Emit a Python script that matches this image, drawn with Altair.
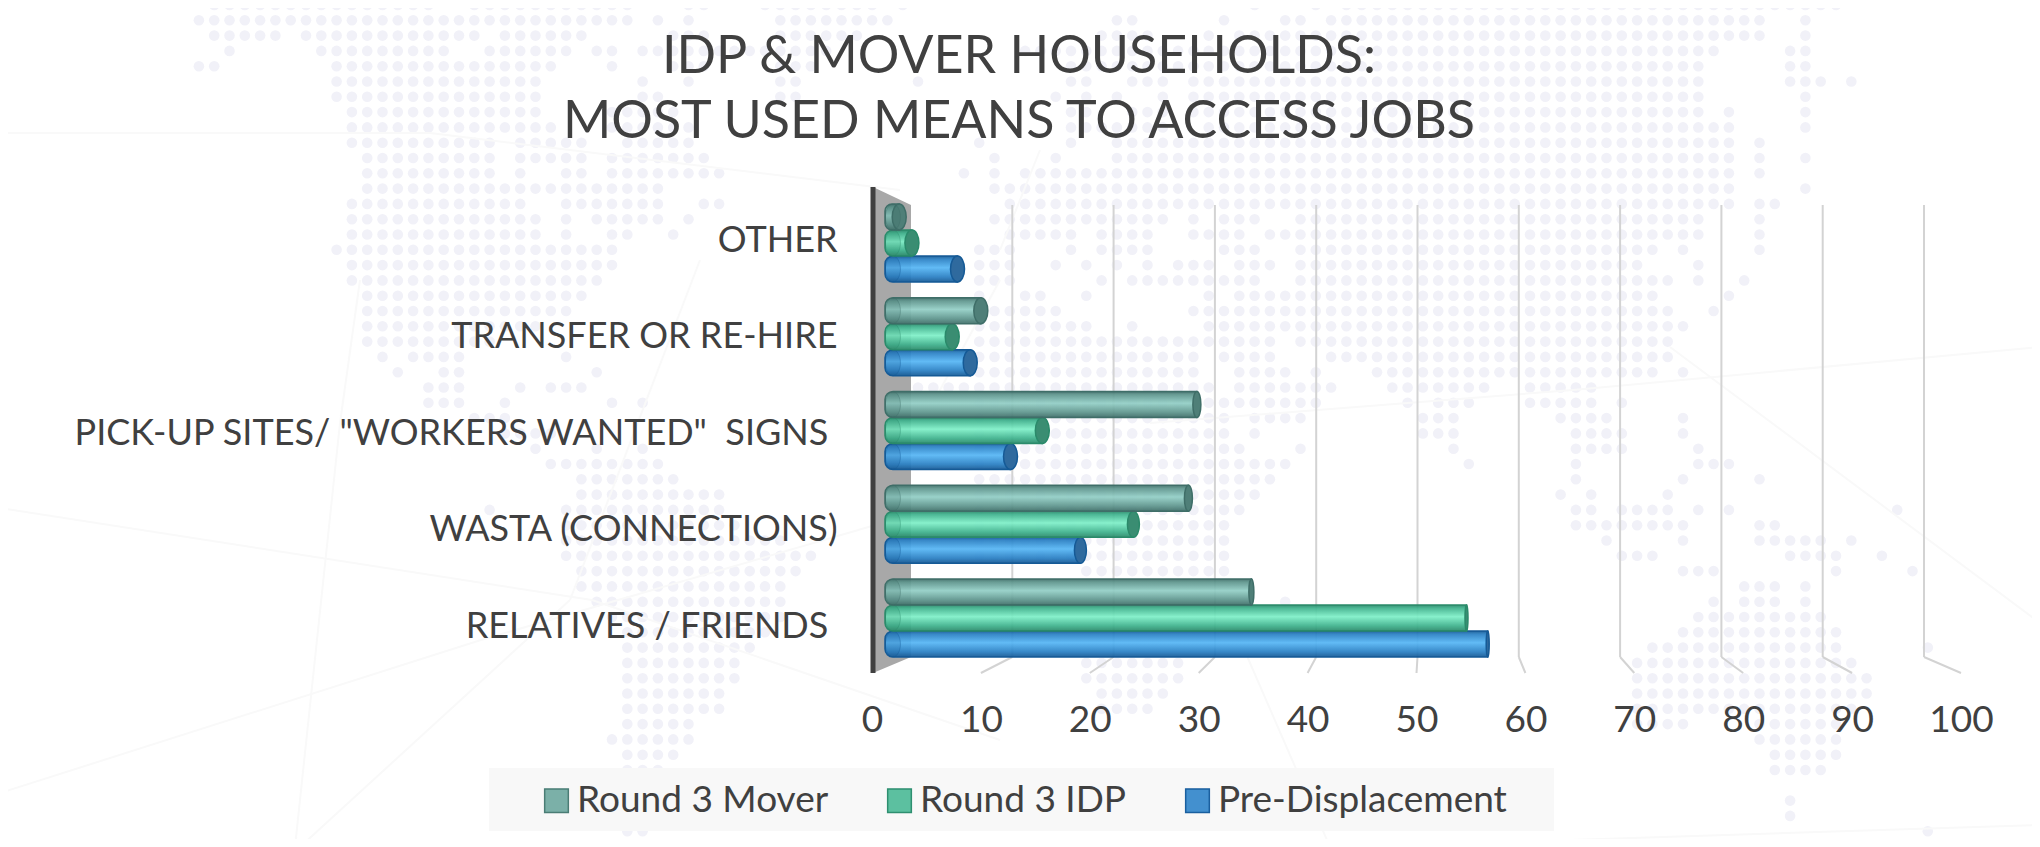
import altair as alt
import pandas as pd

FONT = "Lato"
TEXT = "#404040"

categories = ["OTHER", "TRANSFER OR RE-HIRE", "PICK-UP SITES/ \"WORKERS WANTED\" \u00a0SIGNS\u00a0\u200b",
              "WASTA (CONNECTIONS)", "RELATIVES / FRIENDS\u00a0\u200b"]
series_names = ["Round 3 Mover", "Round 3 IDP", "Pre-Displacement"]
mover = [2, 9.7, 29.8, 29, 34.8]
idp = [3.2, 7, 15.5, 24, 55]
pre = [7.5, 8.7, 12.5, 19, 57]
ticks = [0, 10, 20, 30, 40, 50, 60, 70, 80, 90, 100]
title_lines = ["IDP & MOVER HOUSEHOLDS:", "MOST USED MEANS TO ACCESS JOBS"]

# decorative dotted map: row -> runs of grid columns
map_rows = [
 [(14,28),(31,40),(41,41),(45,46),(50,57),(59,59),(82,82),(86,86),(88,117),(118,120)],
 [(13,41),(43,43),(45,45),(51,58),(73,74),(80,80),(84,85),(87,115),(118,118)],
 [(14,18),(20,31),(33,38),(44,46),(51,56),(72,75),(79,79),(81,115),(118,118)],
 [(15,15),(21,29),(32,37),(39,40),(42,54),(67,112),(117,118)],
 [(13,14),(22,36),(40,40),(44,46),(51,53),(70,111),(117,118)],
 [(22,35),(42,42),(45,45),(51,52),(60,60),(70,71),(74,76),(78,111),(117,119),(121,121)],
 [(22,35),(42,43),(51,52),(69,69),(71,71),(73,73),(76,76),(78,111),(118,118)],
 [(23,35),(40,44),(70,71),(74,76),(78,111),(113,113),(118,118)],
 [(23,36),(40,45),(70,76),(79,113),(118,118)],
 [(23,32),(34,38),(41,45),(64,64),(70,70),(73,113),(115,115)],
 [(24,32),(34,38),(40,46),(65,65),(69,69),(73,113),(115,115),(118,118)],
 [(24,32),(34,34),(37,38),(40,47),(63,63),(65,65),(67,113),(115,115)],
 [(24,43),(65,66),(67,113),(118,118)],
 [(23,34),(37,43),(46,47),(66,113),(115,116)],
 [(23,35),(37,37),(39,43),(45,45),(65,66),(67,76),(78,78),(80,82),(85,111),(115,115)],
 [(23,35),(37,37),(40,41),(44,44),(66,70),(72,75),(78,81),(83,111),(115,115)],
 [(22,40),(64,66),(70,70),(72,75),(80,82),(85,108),(110,110),(115,115)],
 [(23,40),(64,66),(69,69),(71,71),(73,73),(75,75),(77,79),(81,83),(85,107),(111,111)],
 [(23,39),(64,66),(72,72),(74,74),(75,82),(85,109),(111,111),(114,114)],
 [(24,38),(64,64),(67,68),(71,71),(79,79),(81,108),(113,113)],
 [(24,37),(65,69),(78,109),(112,112)],
 [(24,35),(64,71),(74,74),(79,110)],
 [(24,32),(64,83),(85,109)],
 [(25,25),(27,30),(37,37),(64,78),(80,83),(87,109)],
 [(26,26),(29,30),(39,39),(64,78),(81,84),(86,86),(90,108),(110,110)],
 [(28,30),(34,34),(36,38),(60,79),(81,87),(91,97),(100,104)],
 [(28,30),(33,33),(40,40),(42,42),(64,80),(81,86),(92,92),(94,96),(100,104),(106,106)],
 [(31,33),(64,80),(82,85),(93,95),(102,105),(110,110)],
 [(33,36),(64,80),(82,82),(93,95),(103,106),(110,110)],
 [(35,35),(39,39),(42,42),(64,81),(85,85),(95,95),(103,103),(104,106),(111,111)],
 [(36,43),(64,84),(96,96),(103,103),(111,113)],
 [(38,44),(64,83),(103,103),(110,110),(115,115)],
 [(38,47),(64,82),(102,102),(104,104),(109,109)],
 [(32,32),(37,47),(64,81),(103,104),(106,109),(111,111),(113,113),(124,124)],
 [(37,48),(64,80),(103,105),(106,109),(110,110),(115,115),(116,116)],
 [(37,51),(64,80),(105,105),(110,110),(115,119),(121,121)],
 [(37,53),(64,80),(106,108),(117,120),(123,123)],
 [(38,52),(71,80),(110,112),(120,120),(125,125)],
 [(38,51),(114,116),(118,118)],
 [(39,51),(84,84),(112,112),(114,116),(118,118)],
 [(40,51),(111,119)],
 [(41,50),(110,120)],
 [(41,49),(108,120),(126,126)],
 [(41,48),(71,77),(107,121)],
 [(41,48),(71,77),(107,122)],
 [(41,47),(72,76),(107,122)],
 [(41,47),(72,75),(107,121)],
 [(41,45),(107,110),(115,120)],
 [(40,45),(115,120)],
 [(41,44),(116,120)],
 [(41,43),(116,119)],
 [(41,43)],
 [(41,42),(117,117)],
 [(41,42),(117,117)],
 [(41,42),(126,126)],
 [(41,42),(46,46),(124,125)],
]
# faint background strokes (page pixels)
bg_lines = [
 (0,133,430,133),(430,133,900,190),(0,508,592,600),(592,600,1000,740),(0,793,481,640),(481,640,872,526),
 (295,847,340,423),(340,423,360,280),(300,847,570,600),(570,600,700,260),(1150,423,1573,390),(1573,390,2040,347),
 (1670,347,2040,623),(1240,640,1330,847),(1350,847,2040,825),(1000,250,1040,150),(880,500,1000,280),
]

GRID = 15.3
dots = pd.DataFrame([
    {"px": c * GRID, "py": 5 + GRID * r}
    for r, runs in enumerate(map_rows) for a, b in runs for c in range(a, b + 1)
])

W, H = 2024, 831
px_scale = alt.Scale(domain=[8, 8 + W], range=[0, W])
py_scale = alt.Scale(domain=[8, 8 + H], range=[0, H])
X = lambda f, **k: alt.X(f, type="quantitative", scale=px_scale, axis=None, **k)
Y = lambda f, **k: alt.Y(f, type="quantitative", scale=py_scale, axis=None, **k)

dot_layer = alt.Chart(dots).mark_circle(size=112, color="#F1F1F8", opacity=1).encode(x=X("px"), y=Y("py"))

lines_df = pd.DataFrame(bg_lines, columns=["x1", "y1", "x2", "y2"])
line_layer = alt.Chart(lines_df).mark_rule(color="#F9F9F9", strokeWidth=2).encode(
    x=X("x1"), y=Y("y1"), x2="x2:Q", y2="y2:Q")

back = lambda v: 911 + 10.13 * v
front = lambda v: 872 + 10.89 * v
grid_df = pd.DataFrame({"x": [back(v) for v in ticks[1:]], "top": 205, "bot": 657})
grid_layer = alt.Chart(grid_df).mark_rule(color="#D3D3D3", strokeWidth=2).encode(
    x=X("x"), y=Y("top"), y2="bot:Q")
foot_df = pd.DataFrame({"x": [back(v) for v in ticks[1:]], "x2": [front(v) for v in ticks[1:]], "y": 657, "y2": 673})
foot_layer = alt.Chart(foot_df).mark_rule(color="#D3D3D3", strokeWidth=2).encode(
    x=X("x"), y=Y("y"), x2="x2:Q", y2="y2:Q")

wall_df = pd.DataFrame({"x": [873, 911], "top": [187, 205], "bot": [673, 657]})
wall_layer = alt.Chart(wall_df).mark_area(color="#A8A8A8", opacity=1).encode(
    x=X("x"), y=Y("top"), y2="bot:Q")
axis_line = alt.Chart(pd.DataFrame({"x": [873], "top": [187], "bot": [673]})).mark_rule(
    color="#404040", strokeWidth=5).encode(x=X("x"), y=Y("top"), y2="bot:Q")

legend_box = alt.Chart(pd.DataFrame({"x": [489], "x2": [1554], "y": [768], "y2": [831]})).mark_rect(
    color="#F8F8F8", opacity=1).encode(x=X("x"), x2="x2:Q", y=Y("y"), y2="y2:Q")

# bars
bar_x_scale = alt.Scale(domain=[0, 100], range=[877, 1937])
PX_PER_UNIT = (1937 - 877) / 100
bar_y_scale = alt.Scale(type="band", domain=categories, range=[196, 649], paddingInner=0.168, paddingOuter=0)
off_scale = alt.Scale(domain=series_names, paddingInner=0, paddingOuter=0)

def cap_w(v):
    if v <= 16: return 14
    if v <= 25: return 12
    if v <= 30: return 8
    if v <= 35: return 5
    return 3

def ellipse(w, h=26):
    rx = w / h
    return f"M0,-1 A{rx},1 0 1,0 0,1 A{rx},1 0 1,0 0,-1 Z"

cap_classes = [14, 12, 8, 5, 3]
cap_paths = [ellipse(w) for w in cap_classes]

rows = []
for s, vals in zip(series_names, [mover, idp, pre]):
    for c, v in zip(categories, vals):
        w = cap_w(v)
        rows.append({"cat": c, "series": s, "value": v, "cap": w, "cap_x": v - w / 2 / PX_PER_UNIT})
df = pd.DataFrame(rows)

styles = {
    "Round 3 Mover": dict(edge="#3F6E68", dark="#5E958D", light="#93CFC6", cap="#4F7F78"),
    "Round 3 IDP": dict(edge="#2A8A6A", dark="#3FB28D", light="#7FF0C8", cap="#3A8D72"),
    "Pre-Displacement": dict(edge="#155A96", dark="#2A80C4", light="#56B6F5", cap="#2F6A9E"),
}

def bar_layers(s):
    st = styles[s]
    grad = alt.LinearGradient(gradient="linear", x1=0, x2=0, y1=0, y2=1, stops=[
        alt.GradientStop(color=st["edge"], offset=0),
        alt.GradientStop(color=st["dark"], offset=0.12),
        alt.GradientStop(color=st["light"], offset=0.45),
        alt.GradientStop(color=st["dark"], offset=0.8),
        alt.GradientStop(color=st["edge"], offset=1),
    ])
    d = df[df.series == s]
    enc_y = dict(
        y=alt.Y("cat:N", scale=bar_y_scale, axis=None),
        yOffset=alt.YOffset("series:N", scale=off_scale),
    )
    bar = alt.Chart(d).mark_bar(
        fill=grad, stroke=st["edge"], strokeWidth=1.5, opacity=0.93,
        cornerRadiusTopLeft=8, cornerRadiusBottomLeft=8,
    ).encode(x=alt.X("cap_x:Q", scale=bar_x_scale, axis=None), **enc_y)
    end_cap = alt.Chart(d).mark_point(
        filled=True, size=26 * 26, fill=st["cap"], stroke=st["edge"], strokeWidth=1.5, opacity=1,
    ).encode(
        x=alt.X("cap_x:Q", scale=bar_x_scale, axis=None),
        shape=alt.Shape("cap:N", scale=alt.Scale(domain=cap_classes, range=cap_paths), legend=None),
        **enc_y,
    )
    d2 = d.assign(left=0.75)
    start_cap = alt.Chart(d2).mark_point(
        filled=True, size=26 * 26, fill=st["edge"], fillOpacity=0.18, stroke=st["edge"], strokeOpacity=0.35,
        strokeWidth=1, shape=ellipse(15),
    ).encode(x=alt.X("left:Q", scale=bar_x_scale, axis=None), **enc_y)
    return [bar, end_cap, start_cap]

# axes
x_axis_layer = alt.Chart(pd.DataFrame({"t": ticks})).mark_point(opacity=0).encode(
    x=alt.X("t:Q", scale=alt.Scale(domain=[0, 100], range=[864, 1953]), axis=alt.Axis(
        values=ticks, title=None, grid=False, domain=False, ticks=False, labelFont=FONT, labelFontSize=37,
        labelColor=TEXT, labelPadding=0, labelBaseline="middle", labelFlush=False, labelOverlap=False,
        offset=-118.5, format="d", zindex=1)))
y_axis_layer = alt.Chart(pd.DataFrame({"c": categories})).mark_point(opacity=0).encode(
    y=alt.Y("c:N", scale=alt.Scale(type="point", domain=categories, range=[232, 618], padding=0), axis=alt.Axis(
        title=None, grid=False, domain=False, ticks=False, labelFont=FONT, labelFontSize=36, labelColor=TEXT,
        labelPadding=0, labelAlign="right", labelBaseline="middle", labelLimit=1200, offset=-829, zindex=1)))

# legend
legend_colors = ["#7BB0A8", "#5CC0A0", "#4390CF"]
legend_strokes = ["#4A7D75", "#2E8F70", "#1A5F9F"]
legend_layer = alt.Chart(pd.DataFrame({"series": series_names})).mark_square(size=0, opacity=1, strokeWidth=2.5).encode(
    fill=alt.Fill("series:N", scale=alt.Scale(domain=series_names, range=legend_colors), legend=alt.Legend(
        orient="none", legendX=530, legendY=774, direction="horizontal", title=None,
        padding=0, symbolType="square", symbolSize=560, labelFont=FONT, labelFontSize=37, labelColor=TEXT,
        columns=3, columnPadding=52, labelOffset=2, symbolOpacity=1, labelLimit=500)),
    stroke=alt.Stroke("series:N", scale=alt.Scale(domain=series_names, range=legend_strokes)),
)

title_df = pd.DataFrame({"t": title_lines, "x": [1019, 1019], "y": [57, 122]})
title_layer = alt.Chart(title_df).mark_text(font=FONT, fontSize=52, color=TEXT, align="center", baseline="middle").encode(
    x=X("x"), y=Y("y"), text="t:N")

bars = []
for s in ["Pre-Displacement", "Round 3 IDP", "Round 3 Mover"]:
    bars += bar_layers(s)

layers = [dot_layer, line_layer, grid_layer, foot_layer, wall_layer, axis_line, legend_box] + bars + [
    x_axis_layer, y_axis_layer, legend_layer, title_layer]

chart = alt.layer(*layers).resolve_scale(x="independent", y="independent").properties(
    width=W, height=H, padding=0, autosize=alt.AutoSizeParams(type="none"), background="white"
).configure_view(stroke=None)

chart.save("out.html", embed_options={"renderer": "svg", "actions": False})
